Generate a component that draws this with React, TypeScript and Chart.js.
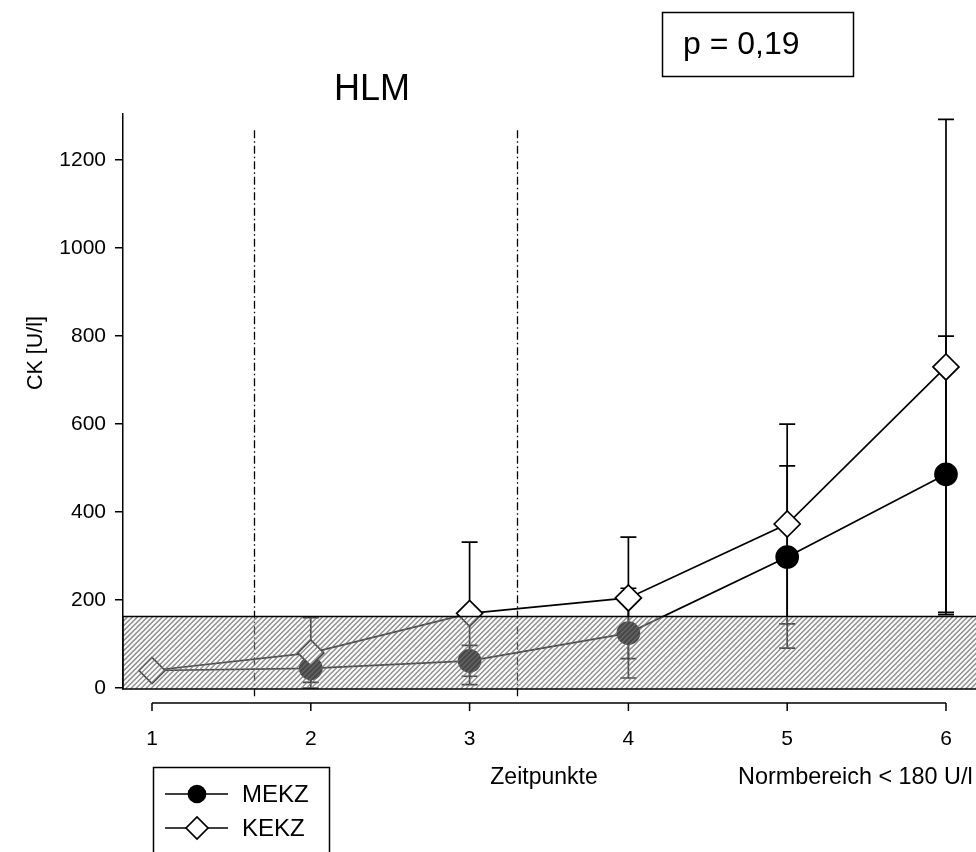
import React, { useEffect, useRef } from 'react';
import { Chart, registerables } from 'chart.js';

Chart.register(...registerables);

// ---- data ----
const timepoints = [1, 2, 3, 4, 5, 6];
const mekzMean = [40, 45, 62, 125, 298, 486];
const mekzSD = [0, 32, 35, 102, 207, 314];
const kekzMean = [40, 80, 170, 205, 373, 730];
const kekzSD = [0, 80, 162, 138, 227, 563];
const yTickValues = [0, 200, 400, 600, 800, 1000, 1200];
const xTickValues = [1, 2, 3, 4, 5, 6];
const phaseBoundaries = [1.64, 3.3];
const phaseTopValue = 1268;
const normUpper = 163;
const seriesNames = ['MEKZ', 'KEKZ'];
const titleText = 'HLM';
const pText = 'p = 0,19';
const xTitle = 'Zeitpunkte';
const yTitle = 'CK [U/l]';
const normText = 'Normbereich < 180 U/l';

const FONT = '"Liberation Sans", Arial, sans-serif';
const LW = 1.7;

const overlayPlugin = {
  id: 'overlayPlugin',
  beforeDatasetsDraw(chart: any) {
    const { ctx, chartArea } = chart;
    const xs = chart.scales.x;
    const ys = chart.scales.y;
    ctx.save();
    // dash-dot phase lines
    ctx.strokeStyle = '#000';
    ctx.lineWidth = 1.3;
    ctx.setLineDash([8, 3, 1.5, 3]);
    phaseBoundaries.forEach((b) => {
      const px = Math.round(xs.getPixelForValue(b)) + 0.5;
      ctx.beginPath();
      ctx.moveTo(px, ys.getPixelForValue(phaseTopValue));
      ctx.lineTo(px, chartArea.bottom + 8);
      ctx.stroke();
    });
    ctx.setLineDash([]);
    // error bars
    ctx.lineWidth = LW;
    const drawBars = (means: number[], sds: number[]) => {
      means.forEach((m, i) => {
        const sd = sds[i];
        if (!sd) return;
        const px = xs.getPixelForValue(timepoints[i]);
        const top = ys.getPixelForValue(m + sd);
        const bot = ys.getPixelForValue(Math.max(m - sd, 0));
        ctx.beginPath();
        ctx.moveTo(px, top);
        ctx.lineTo(px, bot);
        ctx.moveTo(px - 8, top);
        ctx.lineTo(px + 8, top);
        ctx.moveTo(px - 8, bot);
        ctx.lineTo(px + 8, bot);
        ctx.stroke();
      });
    };
    drawBars(mekzMean, mekzSD);
    drawBars(kekzMean, kekzSD);
    ctx.restore();
  },
  afterDatasetsDraw(chart: any) {
    const { ctx, chartArea } = chart;
    const ys = chart.scales.y;
    const x0 = chartArea.left;
    const x1 = chartArea.right + 10;
    const yTop = ys.getPixelForValue(normUpper);
    const yBot = chartArea.bottom;
    const h = yBot - yTop;
    ctx.save();
    ctx.beginPath();
    ctx.rect(x0, yTop, x1 - x0, h);
    ctx.clip();
    ctx.fillStyle = 'rgba(255,255,255,0.28)';
    ctx.fillRect(x0, yTop, x1 - x0, h);
    ctx.strokeStyle = 'rgba(110,110,110,0.75)';
    ctx.lineWidth = 1.5;
    ctx.beginPath();
    for (let k = x0 - h; k < x1; k += 5) {
      ctx.moveTo(k, yBot);
      ctx.lineTo(k + h, yTop);
    }
    ctx.stroke();
    ctx.restore();
    ctx.save();
    ctx.strokeStyle = '#000';
    ctx.lineWidth = 1.5;
    ctx.beginPath();
    ctx.moveTo(x1, yTop);
    ctx.lineTo(x0, yTop);
    ctx.lineTo(x0, yBot);
    ctx.lineTo(x1, yBot);
    ctx.stroke();
    ctx.restore();
  },
  afterDraw(chart: any) {
    const { ctx, chartArea } = chart;
    const xs = chart.scales.x;
    ctx.save();
    ctx.strokeStyle = '#000';
    ctx.lineWidth = 1.5;
    // offset x axis line
    const ay = chartArea.bottom + 14;
    const xa = xs.getPixelForValue(xTickValues[0]);
    const xb = xs.getPixelForValue(xTickValues[xTickValues.length - 1]);
    ctx.beginPath();
    ctx.moveTo(xa, ay);
    ctx.lineTo(xb, ay);
    xTickValues.forEach((v) => {
      const px = xs.getPixelForValue(v);
      ctx.moveTo(px, ay);
      ctx.lineTo(px, ay + 8);
    });
    ctx.stroke();

    ctx.fillStyle = '#000';
    // y title
    ctx.save();
    ctx.translate(36, 353);
    ctx.rotate(-Math.PI / 2);
    ctx.font = `21.5px ${FONT}`;
    ctx.textAlign = 'center';
    ctx.textBaseline = 'middle';
    ctx.fillText(yTitle, 0, 0);
    ctx.restore();

    // HLM title
    ctx.font = `36px ${FONT}`;
    ctx.textAlign = 'center';
    ctx.textBaseline = 'middle';
    ctx.fillText(titleText, 372, 90);

    // p box
    ctx.strokeRect(662.5, 12.5, 191, 64);
    ctx.font = `32px ${FONT}`;
    ctx.textAlign = 'left';
    ctx.fillText(pText, 683, 45);

    // x title & norm text
    ctx.font = `23px ${FONT}`;
    ctx.textAlign = 'center';
    ctx.fillText(xTitle, 544, 778);
    ctx.textAlign = 'left';
    ctx.font = `23.4px ${FONT}`;
    ctx.fillText(normText, 738, 778);

    // legend
    ctx.strokeRect(153.5, 767.5, 176, 100);
    const rows = [794, 828];
    ctx.lineWidth = LW;
    rows.forEach((ry, i) => {
      ctx.beginPath();
      ctx.moveTo(165, ry);
      ctx.lineTo(228, ry);
      ctx.stroke();
      ctx.beginPath();
      if (i === 0) {
        ctx.arc(197, ry, 8.5, 0, Math.PI * 2);
        ctx.fillStyle = '#000';
        ctx.fill();
        ctx.stroke();
      } else {
        const r = 11;
        ctx.moveTo(197 - r, ry);
        ctx.lineTo(197, ry - r);
        ctx.lineTo(197 + r, ry);
        ctx.lineTo(197, ry + r);
        ctx.closePath();
        ctx.fillStyle = '#fff';
        ctx.fill();
        ctx.stroke();
      }
      ctx.fillStyle = '#000';
      ctx.font = `24px ${FONT}`;
      ctx.textAlign = 'left';
      ctx.textBaseline = 'middle';
      ctx.fillText(seriesNames[i], 242, ry + 1);
    });
    ctx.restore();
  },
};

export default function App() {
  const ref = useRef<HTMLCanvasElement | null>(null);
  useEffect(() => {
    if (!ref.current) return;
    const chart = new Chart(ref.current, {
      type: 'line',
      data: {
        datasets: [
          {
            label: seriesNames[0],
            order: 2,
            data: timepoints.map((t, i) => ({ x: t, y: mekzMean[i] })),
            borderColor: '#000',
            borderWidth: LW,
            backgroundColor: '#000',
            pointStyle: 'circle',
            pointRadius: (c: any) => (c.dataIndex === 0 ? 8.5 : 11),
            pointBorderWidth: LW,
            pointBackgroundColor: '#000',
            pointBorderColor: '#000',
            tension: 0,
          },
          {
            label: seriesNames[1],
            order: 1,
            data: timepoints.map((t, i) => ({ x: t, y: kekzMean[i] })),
            borderColor: '#000',
            borderWidth: LW,
            backgroundColor: '#fff',
            pointStyle: 'rectRot',
            pointRadius: 13,
            pointBorderWidth: LW,
            pointBackgroundColor: '#fff',
            pointBorderColor: '#000',
            tension: 0,
          },
        ],
      },
      options: {
        responsive: false,
        animation: false,
        events: [],
        layout: { autoPadding: false, padding: { top: 114, left: 0, right: 0, bottom: 0 } },
        plugins: {
          legend: { display: false },
          tooltip: { enabled: false },
          title: { display: false },
        },
        scales: {
          x: {
            type: 'linear',
            min: 0.8174,
            max: 6.189,
            afterFit: (s: any) => {
              s.height = 163;
            },
            afterBuildTicks: (s: any) => {
              s.ticks = xTickValues.map((v) => ({ value: v }));
            },
            grid: { display: false, drawTicks: false },
            border: { display: false },
            ticks: {
              color: '#000',
              font: { family: FONT, size: 21, lineHeight: '100px' },
              padding: 0,
              maxRotation: 0,
              autoSkip: false,
              callback: (v: any) => String(v),
            },
          },
          y: {
            type: 'linear',
            min: -2,
            max: 1305,
            afterFit: (s: any) => {
              s.width = 123;
            },
            afterBuildTicks: (s: any) => {
              s.ticks = yTickValues.map((v) => ({ value: v }));
            },
            grid: {
              display: true,
              drawOnChartArea: false,
              drawTicks: true,
              tickLength: 8,
              color: '#000',
              lineWidth: 1.5,
            },
            border: { display: true, color: '#000', width: 1.5 },
            ticks: {
              color: '#000',
              font: { family: FONT, size: 21 },
              padding: 9,
              autoSkip: false,
              callback: (v: any) => String(v),
            },
          },
        },
      },
      plugins: [overlayPlugin],
    });
    return () => chart.destroy();
  }, []);
  return (
    <div style={{ position: 'absolute', left: 0, top: 0, width: 976, height: 852, background: '#fff' }}>
      <canvas ref={ref} width={976} height={852} style={{ display: 'block' }} />
    </div>
  );
}
